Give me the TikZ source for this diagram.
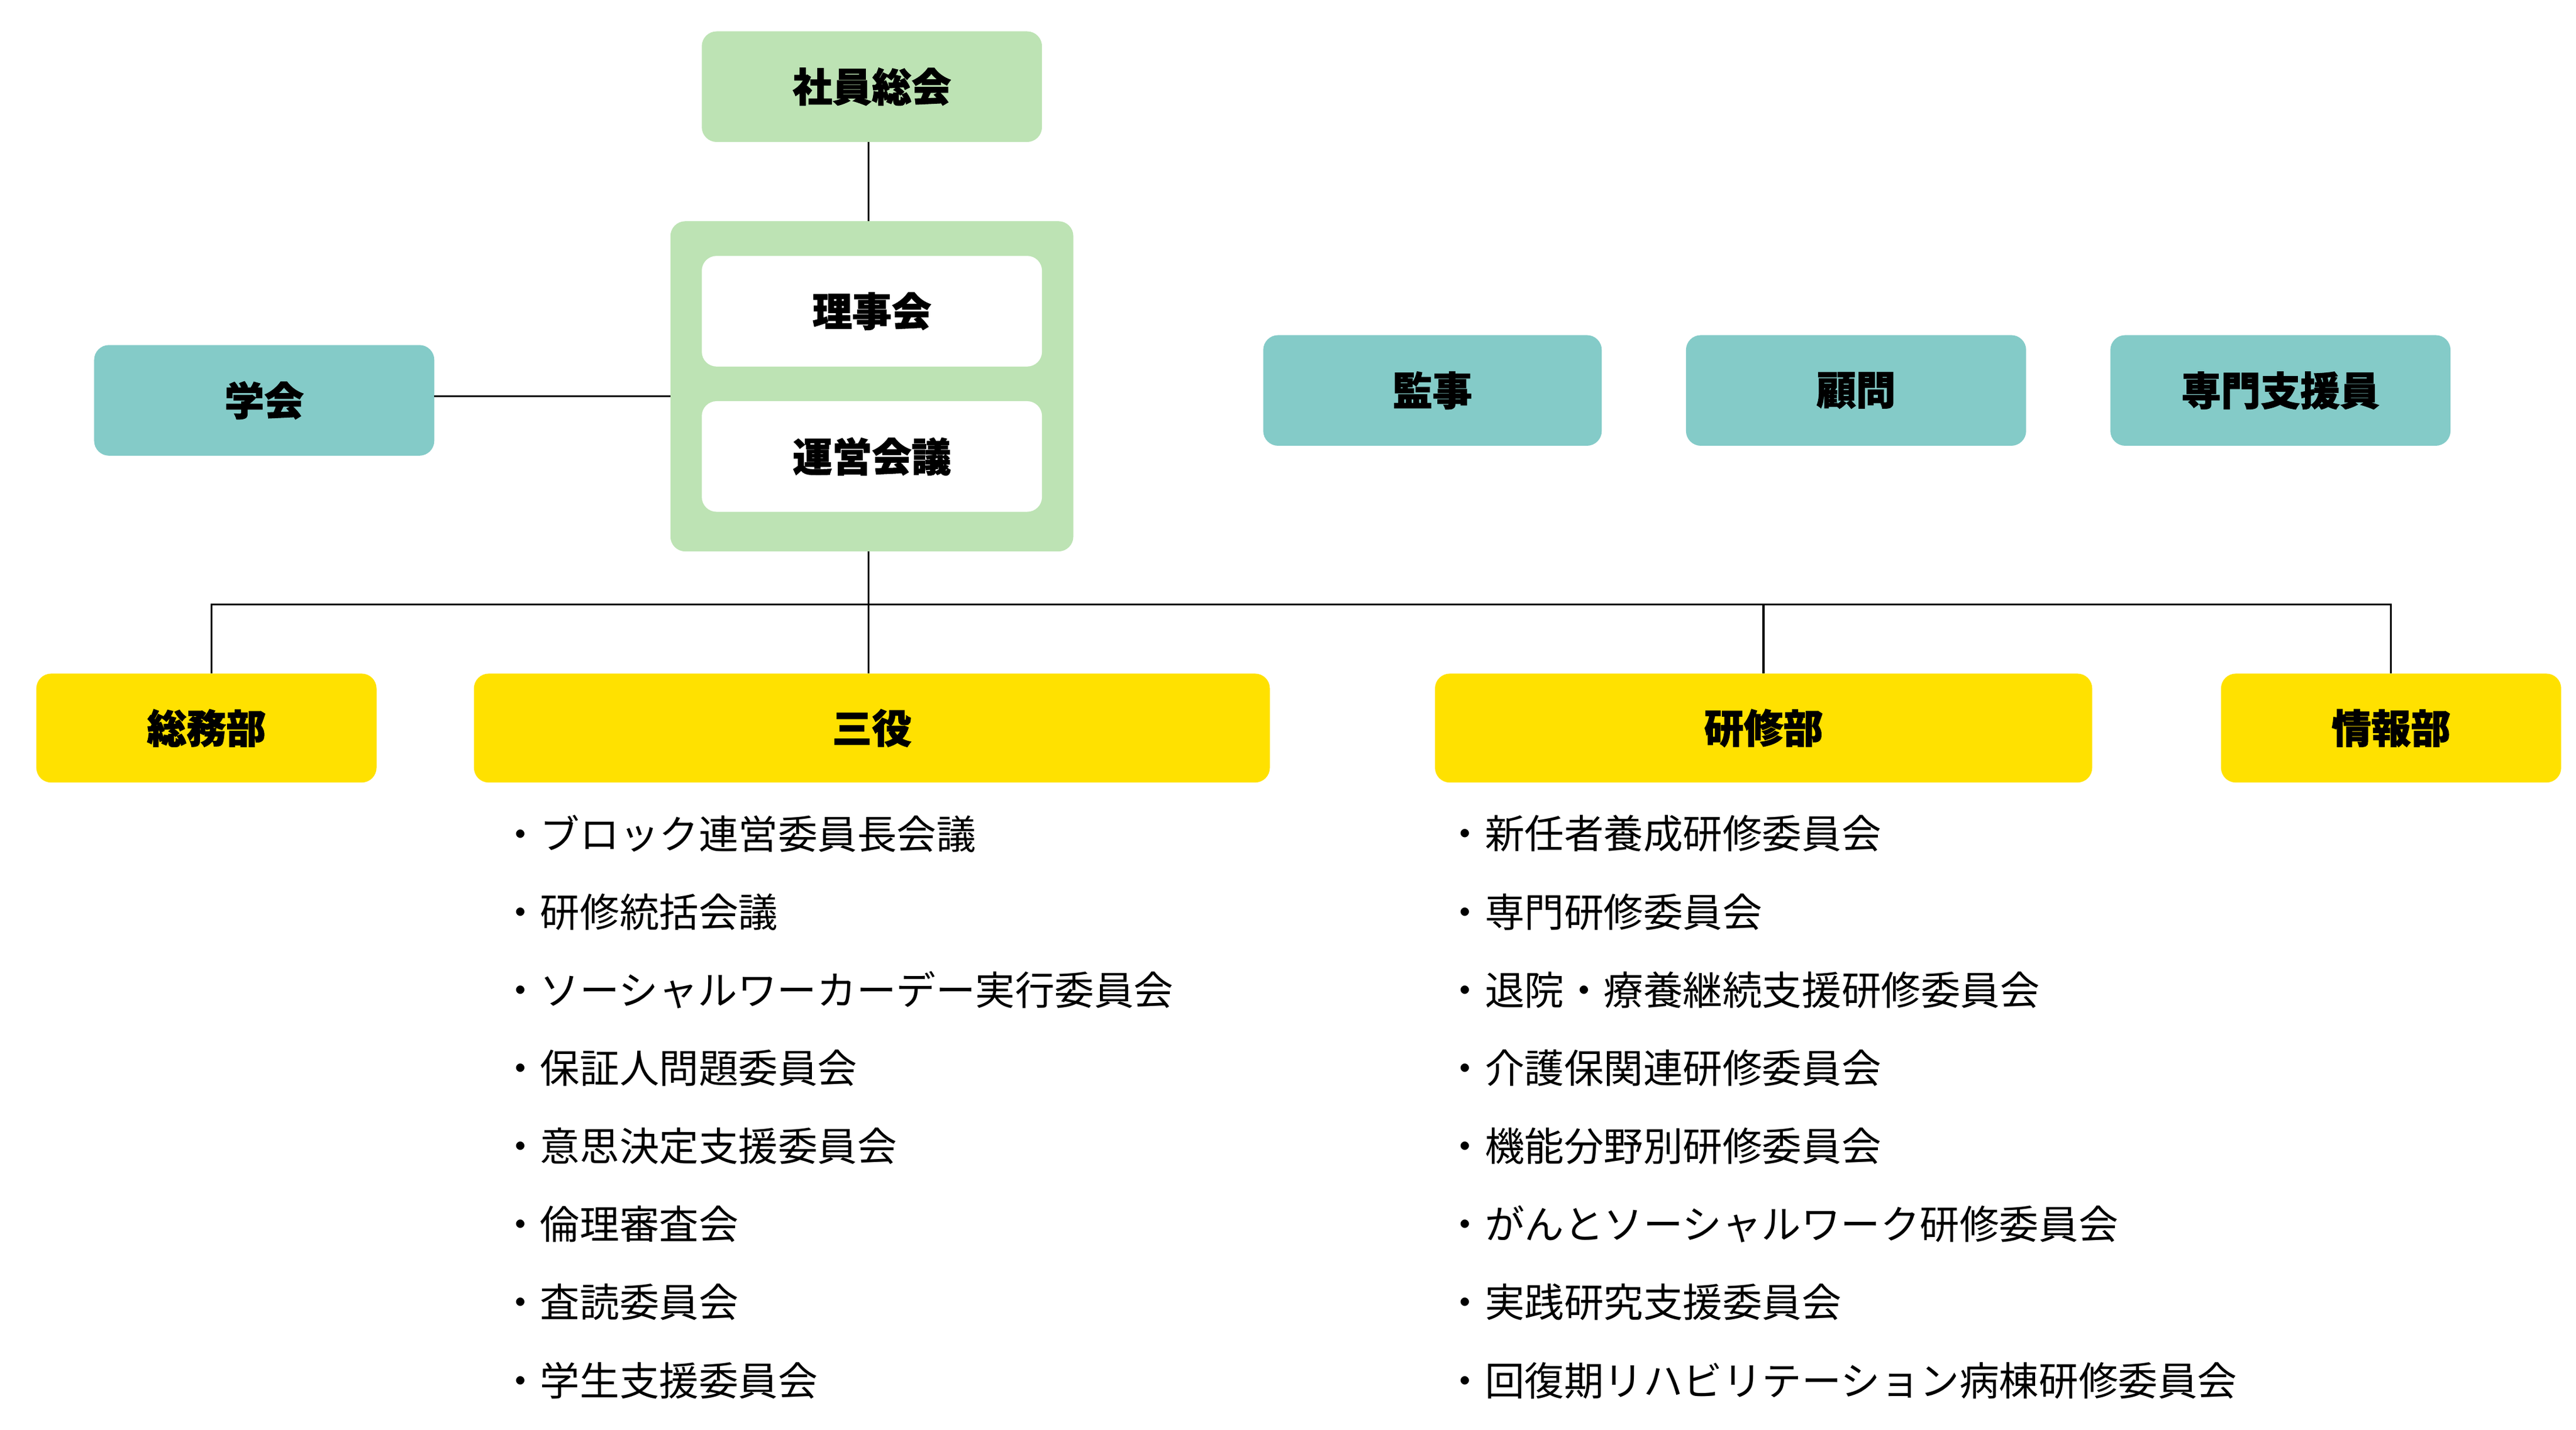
\documentclass[tikz,border=0pt]{standalone}
\usepackage{fontspec}
\setmainfont{Noto Sans CJK JP}
\newfontfamily\jpb[FakeBold=1.5]{Noto Sans CJK JP}
\definecolor{lgreen}{HTML}{BDE3B4}
\definecolor{teal}{HTML}{84CBC8}
\definecolor{yel}{HTML}{FFE100}
\tikzset{
 box/.style={rounded corners=9pt,inner sep=0pt,font=\fontsize{24}{28}\selectfont\bfseries},
 ln/.style={line width=1.2pt,black},
 li/.style={anchor=west,inner sep=0pt,font=\fontsize{24}{28}\selectfont}
}
\begin{document}
\begin{tikzpicture}[x=1pt,y=-1pt]
\useasboundingbox (0,0) rectangle (1560,866);
\fill[lgreen,rounded corners=9pt] (406,134) rectangle (650,334);
\node[coordinate] (bigtop) at (526,134) {};
\node[coordinate] (bigleft) at (406,240) {};
\node[coordinate] (bigbot) at (526,334) {};
\newcommand{\bx}[6]{\fill[#6,rounded corners=9pt] (#2,#3) rectangle (#4,#5);
 \node[box] (#1) at ({(#2+#4)/2},{(#3+#5)/2}) {\jpb #1};}
\bx{社員総会}{425}{19}{631}{86}{lgreen}
\bx{理事会}{425}{155}{631}{222}{white}
\bx{運営会議}{425}{243}{631}{310}{white}
\bx{学会}{57}{209}{263}{276}{teal}
\bx{監事}{765}{203}{970}{270}{teal}
\bx{顧問}{1021}{203}{1227}{270}{teal}
\bx{専門支援員}{1278}{203}{1484}{270}{teal}
\bx{総務部}{22}{408}{228}{474}{yel}
\bx{三役}{287}{408}{769}{474}{yel}
\bx{研修部}{869}{408}{1267}{474}{yel}
\bx{情報部}{1345}{408}{1551}{474}{yel}
\draw[ln] (526,86) -- (bigtop);
\draw[ln] (263,240) -- (bigleft);
\draw[ln] (bigbot) -- (526,408);
\draw[ln] (128,408) -- (128,366) -- (1448,366) -- (1448,408);
\draw[ln] (1068,366) -- (1068,408);
\foreach \t [count=\i] in {ブロック連営委員長会議,研修統括会議,ソーシャルワーカーデー実行委員会,保証人問題委員会,意思決定支援委員会,倫理審査会,査読委員会,学生支援委員会}
 \node[li] (l\i) at (303,{505+47.3*(\i-1)}) {・\t};
\foreach \t [count=\i] in {新任者養成研修委員会,専門研修委員会,退院・療養継続支援研修委員会,介護保関連研修委員会,機能分野別研修委員会,がんとソーシャルワーク研修委員会,実践研究支援委員会,回復期リハビリテーション病棟研修委員会}
 \node[li] (r\i) at (875,{505+47.3*(\i-1)}) {・\t};
\end{tikzpicture}
\end{document}
